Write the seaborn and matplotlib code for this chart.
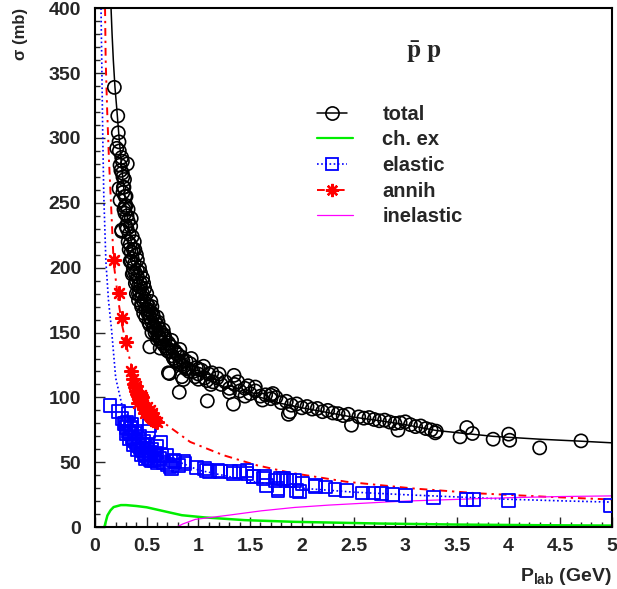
import numpy as np
import matplotlib
matplotlib.use("Agg")
import matplotlib.pyplot as plt
from matplotlib.lines import Line2D
from matplotlib.legend_handler import HandlerLine2D
from matplotlib.ticker import MultipleLocator, FuncFormatter
import seaborn as sns

# fitted curves (P_lab in GeV, sigma in mb)
total_fit_p = [0.15, 0.165, 0.177, 0.193, 0.21, 0.23, 0.255, 0.28, 0.295, 0.31, 0.33, 0.35,
               0.375, 0.40, 0.43, 0.47, 0.52, 0.57, 0.63, 0.71, 0.80, 0.90, 1.0, 1.25, 1.6,
               1.79, 2.0, 2.48, 2.76, 3.0, 3.3, 3.85, 4.3, 4.69, 5.0]
total_fit_v = [410, 380, 360, 339, 323, 303, 280, 260, 250, 240, 230, 220,
               210, 200, 190, 180, 170, 160, 150, 140, 131, 123, 118, 108, 100,
               95.5, 92, 85, 82, 79, 74.5, 70, 67.8, 66.3, 65]

elastic_fit_p = [0.058, 0.065, 0.075, 0.085, 0.105, 0.13, 0.16, 0.2, 0.258, 0.35, 0.5, 0.7,
                 1.0, 1.5, 2.0, 2.5, 3.0, 3.5, 4.0, 4.5, 5.0]
elastic_fit_v = [400, 360, 300, 255, 205, 175, 152, 115, 95, 80, 66, 54,
                 44, 35.5, 30, 27, 25, 23.3, 21.5, 20.3, 19.3]

annih_fit_p = [0.097, 0.103, 0.118, 0.135, 0.16, 0.18, 0.23, 0.264, 0.306, 0.387, 0.5, 0.63,
               0.92, 1.24, 1.56, 1.886, 2.43, 3.08, 3.72, 4.37, 5.0]
annih_fit_v = [400, 360, 320, 283, 240, 204, 172, 155, 139, 113, 95, 82.5,
               65.7, 55.5, 47.8, 42, 35, 29.8, 26, 23.4, 21.3]

chex_p = [0.09, 0.10, 0.12, 0.15, 0.18, 0.25, 0.30, 0.40, 0.50, 0.65, 0.84, 1.06, 1.45,
          1.93, 2.74, 3.5, 4.3, 5.0]
chex_v = [0, 3, 9, 13, 15.5, 17, 17, 16.3, 15.3, 12.6, 9.2, 7.5, 5.4,
          4.1, 2.8, 2.0, 1.5, 1.2]

inel_p = [0.0, 0.79, 0.85, 0.97, 1.29, 1.61, 1.93, 2.26, 2.84, 3.08, 3.72, 4.05, 4.5, 5.0]
inel_v = [0, 0, 2.5, 6, 9.2, 12.6, 15.2, 17, 19.5, 20.3, 22, 22.8, 23.6, 24.1]

# measured total cross sections
total_p = [0.187, 0.22, 0.225, 0.232, 0.21, 0.258, 0.312, 0.242, 0.264, 0.274, 0.232, 0.242,
           0.29, 0.258, 0.258,
           0.27, 0.28, 0.29, 0.28, 0.30, 0.31, 0.30, 0.32, 0.33, 0.32, 0.34, 0.35, 0.34,
           0.36, 0.37, 0.38, 0.39, 0.36, 0.40, 0.41, 0.42, 0.40, 0.43, 0.44, 0.45, 0.46,
           0.47, 0.45, 0.48, 0.49, 0.50, 0.51, 0.52, 0.53, 0.54, 0.55, 0.56, 0.57, 0.58,
           0.59, 0.60, 0.61, 0.62, 0.63, 0.64, 0.65, 0.66, 0.67, 0.68, 0.70, 0.71, 0.72,
           0.74, 0.75, 0.77, 0.78, 0.80, 0.82, 0.84, 0.86, 0.88, 0.90, 0.92, 0.95, 0.98,
           1.0, 1.03, 1.06, 1.1, 1.14, 1.18, 1.22, 1.26, 1.3, 1.35, 1.4, 1.45, 1.5, 1.55,
           1.6, 1.65, 1.7, 1.75, 1.8, 1.85, 1.9, 1.95, 2.0, 2.05, 2.1, 2.15, 2.2, 2.25,
           2.3, 2.35, 2.4, 2.45, 2.55, 2.6, 2.65, 2.7, 2.75, 2.8, 2.85, 2.9, 2.95, 3.05,
           3.1, 3.15, 3.2, 3.25, 3.3,
           0.42, 0.47, 0.52, 0.55, 0.60, 0.63,
           0.235, 0.25, 0.265, 0.27, 0.285, 0.29, 0.30, 0.31, 0.32, 0.33, 0.345, 0.35,
           0.36, 0.37, 0.385, 0.39, 0.41, 0.42, 0.44, 0.45, 0.47, 0.49, 0.50, 0.53,
           0.55, 0.58, 0.60, 0.64, 0.66, 0.70, 0.74, 0.78, 0.82, 0.88, 0.93, 1.0, 1.05,
           1.12, 1.2, 1.3, 1.38, 1.45, 1.55, 1.62, 1.72, 0.38, 0.40, 0.35, 0.43, 0.46,
           0.48, 0.54, 0.56, 0.61, 0.67, 0.72, 0.79, 0.85,
           0.37, 0.41, 0.44, 0.51, 0.57, 0.62, 0.69, 0.76, 0.83, 0.91, 0.97, 1.08,
           0.72, 0.854, 0.815, 1.13, 1.086, 1.344, 1.338, 1.48, 1.70, 1.87, 1.0, 0.53,
           0.71, 0.84, 1.886, 2.48, 3.0, 2.93, 3.53, 3.595, 3.65, 3.85, 4.0, 4.01, 4.30,
           4.70, 3.29]
total_v = [339, 317, 304, 297, 292, 285, 280, 279, 273, 262, 261, 252,
           247, 228, 229,
           270, 262, 255, 245, 248, 240, 232, 236, 226, 220, 218, 212, 205,
           207, 200, 203, 196, 195, 190, 193, 186, 180, 182, 185, 178, 180,
           174, 170, 176, 168, 172, 165, 170, 162, 166, 158, 163, 155, 159,
           152, 156, 148, 153, 146, 150, 142, 147, 140, 145, 138, 142, 135,
           139, 132, 136, 129, 133, 127, 131, 124, 128, 122, 126, 120, 123,
           118, 121, 115, 118, 112, 115, 110, 112, 107, 110, 105, 107, 103, 105,
           101, 102, 99, 100, 96, 97, 94, 95, 92, 93, 91, 91.5, 89, 90,
           88, 87.5, 86, 87, 85, 84, 84.5, 83, 82, 82.5, 81, 80, 80.5, 79,
           77.5, 78, 76, 75, 74,
           175, 165, 158, 150, 145, 138,
           290, 275, 282, 258, 268, 242, 255, 230, 245, 214, 232, 205,
           224, 196, 214, 188, 206, 180, 196, 172, 188, 162, 180, 156,
           170, 150, 162, 143, 152, 136, 144, 128, 137, 122, 130, 114, 124,
           110, 118, 104, 112, 101, 108, 98, 103, 220, 210, 238, 200, 192,
           184, 174, 164, 158, 148, 140, 134, 128,
           214, 198, 188, 168, 154, 146, 138, 130, 125, 120, 116, 113,
           118.4, 113.8, 104, 119, 97.3, 117, 94.8, 109, 101.7, 87, 121.8, 139,
           119, 116, 88.9, 78.6, 81.2, 74.8, 69.6, 76.8, 72.2, 67.8, 71.7, 67, 61.1,
           66.5, 72.7]

# measured elastic cross sections
elastic_p = [0.145, 0.225, 0.32, 0.29, 0.355, 0.53, 0.515, 0.63, 0.69, 0.757, 0.854, 0.98,
             0.548, 0.53, 0.74, 0.806,
             0.28, 0.30, 0.32, 0.34, 0.36, 0.38, 0.40, 0.42, 0.44, 0.46, 0.48, 0.50,
             0.52, 0.54, 0.57, 0.60, 0.30, 0.34, 0.38, 0.42, 0.46, 0.50, 0.54, 0.58,
             0.62, 0.33, 0.37, 0.41, 0.45, 0.49,
             0.26, 0.31, 0.35, 0.39, 0.43, 0.47, 0.51, 0.55, 0.59, 0.64, 0.66, 0.70, 0.60,
             0.774, 0.87, 0.725, 1.08, 1.19, 1.31, 1.40, 1.47, 1.53, 1.63, 1.74, 1.77,
             1.82, 1.06, 1.11, 1.21, 1.34, 1.47, 1.53, 1.64, 1.66, 1.77, 1.79, 1.886,
             1.93, 1.98, 2.01, 2.13, 2.23, 2.32, 2.43, 2.59, 2.69, 2.77, 2.88, 3.0,
             3.27, 3.59, 3.66, 4.0, 4.98, 2.13, 1.95, 1.85]
elastic_v = [94, 88.9, 87.6, 80, 77, 78.6, 73.5, 65.7, 55.5, 51.6, 50.3, 46,
             51.6, 56.8, 45.2, 47.8,
             80, 77, 74, 72, 69, 67, 65, 63, 61, 59, 57, 55,
             54, 52, 51, 50, 72, 76, 72, 68, 64, 61, 58, 55,
             53, 68, 64, 60, 56, 53,
             84, 81, 79, 74, 70, 66, 63, 60, 57, 55, 50, 48, 62,
             50.3, 49.1, 46.5, 43.9, 43.9, 42.6, 42.6, 43.9, 38.8, 37.5, 36.2, 29.8,
             37.5, 45.2, 42.6, 42.6, 41.4, 41.4, 39.3, 38.8, 32.4, 28.5, 37.5, 36.2,
             36.2, 27.2, 33.7, 31.6, 31, 29, 28.5, 26.4, 26.4, 26, 25.4, 24.7,
             22.6, 21.4, 21.4, 20.3, 17, 32.4, 28.5, 36.2]

# measured annihilation cross sections
annih_p = [0.184, 0.232, 0.264, 0.30, 0.345, 0.37, 0.38, 0.39, 0.40, 0.41, 0.42, 0.43,
           0.44, 0.45, 0.46, 0.47, 0.48, 0.49, 0.50, 0.51, 0.52, 0.53, 0.54, 0.55,
           0.56, 0.58, 0.60, 0.42, 0.45, 0.48, 0.50, 0.53, 0.55, 0.40, 0.44]
annih_v = [206, 180.6, 161.3, 142.8, 120, 114, 110, 108, 105, 103, 101, 99,
           98, 96, 94, 93, 92, 90, 89, 88, 87, 86, 85, 84,
           83, 82, 81, 96, 100, 88, 93, 90, 88, 109, 102]

sns.set_theme(style="ticks")
plt.rcParams["font.family"] = ["Liberation Sans", "DejaVu Sans"]
plt.rcParams["font.weight"] = "bold"
plt.rcParams["mathtext.fontset"] = "custom"
plt.rcParams["mathtext.rm"] = "Liberation Sans:bold"
plt.rcParams["mathtext.bf"] = "Liberation Sans:bold"
plt.rcParams["mathtext.it"] = "Liberation Sans:bold"

fig = plt.figure(figsize=(6.17, 5.89), dpi=100)
ax = fig.add_axes([0.154, 0.105, 0.838, 0.881])

# curves
sns.lineplot(x=total_fit_p, y=total_fit_v, sort=False, estimator=None, color="black",
             linewidth=1.1, ax=ax)
sns.lineplot(x=elastic_fit_p, y=elastic_fit_v, sort=False, estimator=None, color="#0000ff",
             linewidth=1.2, linestyle=(0, (1, 1.5)), ax=ax)
sns.lineplot(x=annih_fit_p, y=annih_fit_v, sort=False, estimator=None, color="#ff0000",
             linewidth=1.4, linestyle=(0, (4, 2.5, 1.2, 2.5)), ax=ax)
sns.lineplot(x=chex_p, y=chex_v, sort=False, estimator=None, color="#00ee00",
             linewidth=1.8, ax=ax)
sns.lineplot(x=inel_p, y=inel_v, sort=False, estimator=None, color="#ff00ff",
             linewidth=0.9, ax=ax)

# data points
sns.scatterplot(x=total_p, y=total_v, marker="o", s=90, facecolor="none",
                edgecolor="black", linewidth=1.2, ax=ax, zorder=3)
sns.scatterplot(x=elastic_p, y=elastic_v, marker="s", s=85, facecolor="none",
                edgecolor="#0000ff", linewidth=1.3, ax=ax, zorder=3)
sns.scatterplot(x=annih_p, y=annih_v, marker=(8, 2, 0), s=85, color="#ff0000",
                linewidth=1.7, ax=ax, zorder=3)

ax.set_xlim(0, 5)
ax.set_ylim(0, 400)
ax.xaxis.set_major_locator(MultipleLocator(0.5))
ax.xaxis.set_minor_locator(MultipleLocator(0.1))
ax.yaxis.set_major_locator(MultipleLocator(50))
ax.yaxis.set_minor_locator(MultipleLocator(10))
ax.xaxis.set_major_formatter(FuncFormatter(lambda v, pos: "%g" % v))
ax.tick_params(which="major", direction="in", length=7, width=1.0, labelsize=14,
               top=False, right=False)
ax.tick_params(which="minor", direction="in", length=3.5, width=1.0, top=False, right=False)
ax.tick_params(axis="x", pad=8)
ax.tick_params(axis="y", pad=10)
for sp in ax.spines.values():
    sp.set_visible(True)
    sp.set_linewidth(1.5)
    sp.set_color("black")

ax.set_ylabel("σ (mb)", fontsize=12, fontweight="bold", loc="top")
ax.yaxis.set_label_coords(-0.13, 1.0)
ax.set_xlabel(r"P$_{\mathrm{lab}}$ (GeV)", fontsize=14, fontweight="bold", loc="right")
ax.xaxis.set_label_coords(1.0, -0.075)

ax.text(0.636, 0.904, r"$\mathbf{\bar{p}\ p}$", transform=ax.transAxes, fontsize=18,
        ha="center", va="baseline", math_fontfamily="stix")


class EndMarkerHandler(HandlerLine2D):
    def get_xdata(self, legend, xdescent, ydescent, width, height, fontsize):
        end = -xdescent + width
        return np.array([-xdescent, end - 4.5]), np.array([end])


handles = [
    Line2D([], [], color="black", lw=1.1, marker="o", ms=9.5, mfc="none", mec="black", mew=1.2),
    Line2D([], [], color="#00ee00", lw=1.6),
    Line2D([], [], color="#0000ff", lw=1.2, ls=(0, (1, 1.5)), marker="s", ms=9,
           mfc="none", mec="#0000ff", mew=1.3),
    Line2D([], [], color="#ff0000", lw=1.4, ls=(0, (4, 2.5, 1.2, 2.5)), marker=(8, 2, 0),
           ms=9.5, mec="#ff0000", mew=1.7),
    Line2D([], [], color="#ff00ff", lw=0.9),
]
labels = ["total", "ch. ex", "elastic", "annih", "inelastic"]
hmap = {handles[0]: EndMarkerHandler(), handles[2]: EndMarkerHandler(),
        handles[3]: EndMarkerHandler()}
ax.legend(handles, labels, handler_map=hmap, loc="upper left", bbox_to_anchor=(0.429, 0.814),
          frameon=False, fontsize=14.5, handlelength=1.8, handletextpad=1.45,
          labelspacing=0.33, borderpad=0, borderaxespad=0, numpoints=1)

fig.savefig("out.png", dpi=100)
